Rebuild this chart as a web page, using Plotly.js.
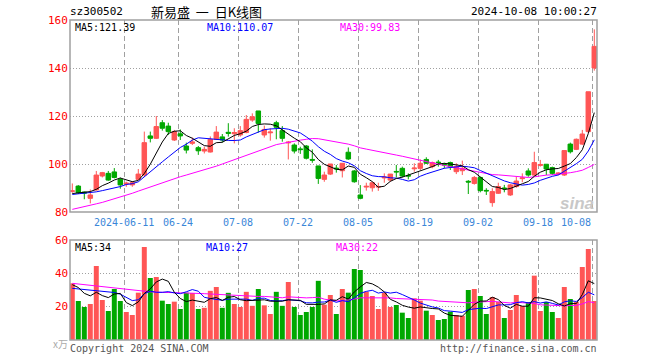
<!DOCTYPE html>
<html><head><meta charset="utf-8">
<script src="https://cdn.plot.ly/plotly-3.0.1.min.js"></script>
<style>html,body{margin:0;padding:0;background:#fff}#chart{width:660px;height:360px}</style>
</head><body><div id="chart"></div>
<script>
// ---------- data ----------
const dates = [
 '2024-05-28','2024-05-29','2024-05-30','2024-05-31',
 '2024-06-03','2024-06-04','2024-06-05','2024-06-06','2024-06-07','2024-06-11','2024-06-12','2024-06-13','2024-06-14',
 '2024-06-17','2024-06-18','2024-06-19','2024-06-20','2024-06-21','2024-06-24','2024-06-25','2024-06-26','2024-06-27','2024-06-28',
 '2024-07-01','2024-07-02','2024-07-03','2024-07-04','2024-07-05','2024-07-08','2024-07-09','2024-07-10','2024-07-11','2024-07-12',
 '2024-07-15','2024-07-16','2024-07-17','2024-07-18','2024-07-19','2024-07-22','2024-07-23','2024-07-24','2024-07-25','2024-07-26',
 '2024-07-29','2024-07-30','2024-07-31','2024-08-01','2024-08-02','2024-08-05','2024-08-06','2024-08-07','2024-08-08','2024-08-09',
 '2024-08-12','2024-08-13','2024-08-14','2024-08-15','2024-08-16','2024-08-19','2024-08-20','2024-08-21','2024-08-22','2024-08-23',
 '2024-08-26','2024-08-27','2024-08-28','2024-08-29','2024-08-30','2024-09-02','2024-09-03','2024-09-04','2024-09-05','2024-09-06',
 '2024-09-09','2024-09-10','2024-09-11','2024-09-12','2024-09-13','2024-09-18','2024-09-19','2024-09-20','2024-09-23','2024-09-24',
 '2024-09-25','2024-09-26','2024-09-27','2024-09-30','2024-10-08'];

const openP = [88.6,90.8,88.3,85.7,89.2,95.0,96.1,96.7,93.6,91.7,
 91.3,93.6,95.4,111.7,110.7,117.2,115.8,110.0,112.6,107.5,
 108.6,106.8,105.4,105.0,110.3,111.3,113.2,112.6,112.1,113.1,
 118.3,122.1,112.1,113.0,117.2,113.9,108.8,107.9,106.3,107.5,
 101.9,99.2,93.6,95.8,98.3,97.2,104.9,97.1,87.1,90.4,
 90.1,90.4,94.2,93.3,96.9,98.2,95.2,98.0,98.2,101.9,
 98.9,100.8,99.8,100.6,96.8,97.2,92.8,91.9,94.4,89.0,
 83.9,87.8,90.0,87.1,90.6,93.9,97.1,95.4,99.4,99.9,
 98.5,95.8,95.4,108.3,106.1,108.3,113.5,140.0];
const highP = [91.9,91.2,88.5,89.4,97.1,96.7,97.1,98.3,94.3,92.6,
 92.9,97.9,113.5,113.5,120.0,118.3,117.2,114.2,114.4,108.9,
 111.0,107.5,107.2,111.5,115.8,112.5,117.0,114.9,115.8,120.4,
 121.1,122.1,116.0,114.9,118.0,115.8,109.6,108.6,107.2,107.9,
 106.1,99.2,96.8,100.0,99.6,100.3,106.9,97.5,91.2,92.2,
 92.6,92.2,96.1,95.8,99.6,98.9,96.1,100.3,101.9,102.8,
 101.0,101.7,100.5,101.0,100.3,101.4,93.3,95.0,94.7,89.9,
 89.9,92.2,91.3,91.7,94.7,96.1,98.2,105.1,101.7,99.9,
 98.9,96.5,105.6,108.9,110.6,114.2,130.1,156.1];
const lowP = [88.0,87.5,85.3,83.6,88.9,94.4,93.0,94.0,89.7,90.5,
 90.5,93.3,94.7,109.0,110.4,113.9,112.1,109.6,110.0,104.4,
 107.9,103.8,104.4,104.8,110.0,109.0,111.4,108.6,111.4,112.8,
 117.6,113.1,111.0,109.7,110.3,109.3,101.9,104.4,104.2,101.9,
 100.5,91.7,92.6,95.4,96.4,94.4,101.7,92.2,85.3,88.9,
 88.5,88.8,92.2,92.6,94.4,94.4,93.6,96.8,97.5,100.0,
 98.2,98.9,98.2,97.5,95.8,95.4,87.5,91.4,88.2,87.1,
 82.2,87.5,88.2,86.7,90.1,92.4,94.7,95.0,98.9,95.4,
 95.4,95.3,95.0,104.4,105.8,107.9,112.8,138.9];
const closeP = [88.8,88.1,87.9,87.1,95.4,96.4,93.3,94.4,91.3,92.0,
 92.2,95.8,108.9,110.7,115.6,114.9,113.5,113.5,111.7,105.8,
 109.2,105.5,106.1,110.3,113.3,110.0,112.8,113.1,113.9,118.6,
 119.7,116.9,114.4,113.3,115.3,110.7,109.1,105.4,106.0,102.4,
 101.6,94.0,95.4,100.0,98.0,100.3,102.1,92.6,85.7,90.7,
 92.2,90.6,94.5,95.8,96.7,95.0,95.0,98.3,100.3,100.3,
 100.6,100.6,99.6,98.9,98.9,98.2,92.5,94.4,88.9,88.8,
 88.5,90.6,89.8,91.3,92.9,94.2,95.4,100.6,99.8,97.9,
 96.1,96.2,105.6,105.1,110.3,112.5,130.1,149.0];

const ma5 = [87.7,88.0,88.2,88.5,89.46,90.98,92.02,93.32,94.16,93.48,
 92.64,93.14,96.04,99.92,104.64,109.18,112.72,113.64,113.84,111.88,
 110.74,109.14,107.66,107.38,108.88,109.04,110.5,111.9,112.62,113.68,
 115.62,116.44,116.7,116.58,115.92,114.12,112.56,110.76,109.3,106.72,
 104.9,101.88,99.88,98.68,97.8,97.54,99.16,98.6,95.74,94.28,
 92.66,90.36,90.74,92.76,93.96,94.52,95.4,96.16,97.06,97.78,
 98.9,100.02,100.28,100.0,99.72,99.24,97.62,96.58,94.58,92.56,
 90.62,90.24,89.32,89.8,90.62,91.76,92.72,94.88,96.58,97.58,
 97.96,98.12,99.12,100.18,102.66,105.94,112.72,121.4];
const ma10 = [87.3,87.5,87.7,88.0,88.4,88.9,89.4,89.9,90.6,91.47,
 91.81,92.58,94.68,97.04,99.06,100.91,102.93,104.84,106.88,108.26,
 109.96,110.93,110.65,110.61,110.38,109.89,109.82,109.78,110.0,111.28,
 112.33,113.47,114.3,114.6,114.8,114.87,114.5,113.73,112.94,111.32,
 109.51,107.22,105.32,103.99,102.26,101.22,100.52,99.24,97.21,96.04,
 95.1,94.76,94.67,94.25,94.12,93.59,92.88,93.45,94.91,95.87,
 96.71,97.71,98.22,98.53,98.75,99.07,98.82,98.43,97.29,96.14,
 94.93,93.93,92.95,92.19,91.59,91.19,91.48,92.1,93.19,94.1,
 94.86,95.42,97.0,98.38,100.12,101.95,105.42,110.07];
const ma30 = [81.1,81.6,82.2,82.8,83.4,84.0,84.7,85.4,86.2,86.9,
 87.8,88.7,89.6,90.5,91.4,92.2,93.0,93.9,94.7,95.4,
 96.1,96.8,97.5,98.2,99.1,100.0,100.9,101.8,102.7,103.67,
 104.7,105.66,106.54,107.42,108.08,108.56,109.08,109.45,109.94,110.29,
 110.6,110.54,110.09,109.73,109.15,108.66,108.28,107.58,106.72,106.21,
 105.65,105.15,104.76,104.28,103.73,103.23,102.63,102.14,101.69,101.08,
 100.44,99.9,99.4,98.92,98.38,97.96,97.41,97.04,96.47,96.02,
 95.58,95.47,95.28,94.99,94.82,94.62,94.39,94.66,95.13,95.37,
 95.5,95.69,96.06,96.37,96.82,97.4,98.57,99.83];

const volume = [34,23.4,19.8,21.6,44.4,24,17.4,30.6,23.4,16.8,
 15,28.4,55.8,37.2,37.8,23.6,21.6,23,18.6,28.4,
 28.2,18.6,19.3,29.5,31.8,19.3,28.3,21.6,19.8,28.9,
 20.5,30.6,20.8,15.6,28.9,20.5,34.8,19.8,15,16.8,
 19.8,35.5,21.2,27,15.6,30.6,28.4,42.6,42,29,
 26.4,18.6,28.4,19.8,21,16.4,13.2,25,23.6,17.6,
 15,12,12.6,17,15,14.5,30,30.6,26.4,15.6,
 25.8,22.8,13.2,18,27,20.4,22.8,38.6,17.4,22.8,
 16.8,13.2,31.8,24.6,22.8,43.8,54.6,23.4];
const vma5 = [33.2,31.5,28.0,26.5,28.64,26.64,25.44,27.6,27.96,22.44,
 20.64,22.84,27.88,30.64,34.84,36.56,35.2,28.64,24.92,23.04,
 23.96,23.36,22.62,24.8,25.48,23.7,25.64,26.1,24.16,23.58,
 23.82,24.28,24.12,23.28,23.28,23.28,24.12,23.92,23.8,21.38,
 21.24,21.38,21.66,24.06,23.82,25.98,24.56,28.84,31.84,34.52,
 33.68,31.72,28.88,24.44,22.84,20.84,19.76,19.08,19.84,19.16,
 18.88,18.64,16.16,14.84,14.32,14.22,17.82,21.42,23.3,23.42,
 25.68,24.24,20.76,19.08,21.36,20.28,20.28,25.36,25.24,24.4,
 23.68,21.76,20.4,21.84,21.84,27.24,35.52,33.84];
const vma10 = [31.0,30.6,30.2,29.8,29.5,29.3,29.0,28.5,27.5,25.54,
 23.64,24.14,27.74,29.3,28.64,28.6,29.02,28.26,27.78,28.94,
 30.26,29.28,25.63,24.86,24.26,23.83,24.5,24.36,24.48,24.53,
 23.76,24.96,25.11,23.72,23.43,23.55,24.2,24.02,23.54,22.33,
 22.26,22.75,22.79,23.93,22.6,23.61,22.97,25.25,27.95,29.17,
 29.83,28.14,28.86,28.14,28.68,27.26,25.74,23.98,22.14,21.0,
 19.86,19.2,17.62,17.34,16.74,16.55,18.23,18.79,19.07,18.87,
 19.95,21.03,21.09,21.19,22.39,22.98,22.26,23.06,22.16,22.88,
 21.98,21.02,22.88,23.54,23.12,25.46,28.64,27.12];
const vma30 = [34.0,33.6,33.2,32.9,32.6,32.1,31.5,31.0,30.6,30.3,
 30.0,29.6,29.2,28.9,28.7,28.5,28.4,28.4,28.3,28.2,
 28.2,28.0,27.8,27.6,27.4,27.1,26.9,26.7,26.5,26.34,
 25.89,26.13,26.16,25.96,25.44,25.33,25.91,25.55,25.27,25.27,
 25.43,25.66,24.51,24.17,23.43,23.66,23.89,24.54,25.32,25.34,
 25.28,25.28,25.59,25.26,24.9,24.81,24.3,24.42,24.54,24.17,
 23.98,23.36,23.09,23.14,22.67,22.47,22.31,22.67,23.05,23.01,
 23.21,22.79,22.52,22.22,22.6,22.26,22.08,21.94,21.12,20.92,
 20.6,20.42,20.53,20.69,20.75,21.66,23.04,22.4];

const tickDates = ['2024-06-11','2024-06-24','2024-07-08','2024-07-22','2024-08-05','2024-08-19','2024-09-02','2024-09-18','2024-10-08'];
const tickText  = ['2024-06-11','06-24','07-08','07-22','08-05','08-19','09-02','09-18','10-08'];
const priceTicks = [80,100,120,140,160];
const volTicks = [20,40,60];

const headerCode = 'sz300502';
const headerTitle = '新易盛\u00a0\u00a0一\u00a0\u00a0日K线图';
const headerTime = '2024-10-08 10:00:27';
const maLabels = ['MA5:121.39','MA10:110.07','MA30:99.83'];
const vmaLabels = ['MA5:34','MA10:27','MA30:22'];

// ---------- drawing ----------
const W=660,H=360, L=70, R=597, T1=20, B1=212, T2=240, B2=340;
const px = v => v/W, py = v => 1 - v/H;
const idx = dates.map((d,i)=>i);
const RED='#ff5555', GREEN='#00a800', GRID='#a0a0a0';
const MONO='DejaVu Sans Mono, Liberation Mono, monospace';
const xRange=[-0.383, 87.45];
const gridX = tickDates.map(d => dates.indexOf(d) - 1/3);

const traces = [
 {type:'candlestick', x:idx, open:openP, high:highP, low:lowP, close:closeP,
  increasing:{line:{color:RED,width:1},fillcolor:RED},
  decreasing:{line:{color:GREEN,width:1},fillcolor:GREEN},
  whiskerwidth:0, hoverinfo:'skip', xaxis:'x', yaxis:'y'},
 {type:'scatter',mode:'lines',x:idx,y:ma30,line:{color:'#ff00ff',width:1},xaxis:'x',yaxis:'y',hoverinfo:'skip'},
 {type:'scatter',mode:'lines',x:idx,y:ma10,line:{color:'#0000ff',width:1},xaxis:'x',yaxis:'y',hoverinfo:'skip'},
 {type:'scatter',mode:'lines',x:idx,y:ma5,line:{color:'#000000',width:1},xaxis:'x',yaxis:'y',hoverinfo:'skip'},
 {type:'bar',x:idx,y:volume,marker:{color:closeP.map((c,i)=>c>=openP[i]?RED:GREEN),line:{width:0}},xaxis:'x2',yaxis:'y2',hoverinfo:'skip'},
 {type:'scatter',mode:'lines',x:idx,y:vma30,line:{color:'#ff00ff',width:1},xaxis:'x2',yaxis:'y2',hoverinfo:'skip'},
 {type:'scatter',mode:'lines',x:idx,y:vma10,line:{color:'#0000ff',width:1},xaxis:'x2',yaxis:'y2',hoverinfo:'skip'},
 {type:'scatter',mode:'lines',x:idx,y:vma5,line:{color:'#000000',width:1},xaxis:'x2',yaxis:'y2',hoverinfo:'skip'}
];

const ann = [];
const txt = (text,x,y,anchor,color,size,family) => ann.push({text:text,xref:'paper',yref:'paper',x:px(x),y:py(y),xanchor:anchor,yanchor:'middle',showarrow:false,borderpad:0,font:{family:family||MONO,size:size||10,color:color||'#000'}});
txt(headerCode,69,12,'left','#000',11);
txt(headerTitle,150,12,'left','#000',13,'Noto Sans CJK SC');
txt(headerTime,R+1,12,'right','#000',11);
const maCols=['#000000','#0000ff','#ff00ff'];
[74,206,339].forEach((x,i)=>txt(maLabels[i],x,28,'left',maCols[i],10));
[74,205,335].forEach((x,i)=>txt(vmaLabels[i],x,247,'left',maCols[i],10));
priceTicks.forEach(v=>ann.push({text:String(v),xref:'paper',yref:'y',x:px(69),y:v,xanchor:'right',yanchor:'middle',showarrow:false,borderpad:0,font:{family:MONO,size:11,color:'#ff0000'}}));
volTicks.forEach(v=>ann.push({text:String(v),xref:'paper',yref:'y2',x:px(69),y:v,xanchor:'right',yanchor:'middle',showarrow:false,borderpad:0,font:{family:MONO,size:11,color:'#ff0000'}}));
txt('x万',69,343,'right','#aaaaaa',10,'Noto Sans CJK SC');
tickDates.forEach((d,i)=>{
  const last = i===tickDates.length-1;
  ann.push({text:tickText[i],xref:last?'paper':'x',yref:'paper',x:last?px(592):gridX[i],y:py(222),xanchor:last?'right':'center',yanchor:'middle',showarrow:false,borderpad:0,font:{family:MONO,size:10,color:'#3a86d8'}});
});
txt('Copyright 2024 SINA.COM',69,348,'left','#555555',10);
txt('http://finance.sina.com.cn',R+1,348,'right','#555555',10);
txt('<b><i>sina</i></b>',577,203,'center','#c8c8c8',17,'Liberation Sans');

const frame = (t,b)=>({type:'rect',xref:'paper',yref:'paper',x0:px(L),x1:px(R),y0:py(b),y1:py(t),line:{color:GRID,width:1.5},layer:'above'});

const axX = {domain:[px(L),px(R)],range:xRange,tickvals:gridX,showticklabels:false,ticks:'',showgrid:true,gridcolor:GRID,griddash:'5px,3px',gridwidth:1,zeroline:false,showline:false,fixedrange:true};
const layout = {
 width:W,height:H,margin:{l:0,r:0,t:0,b:0},paper_bgcolor:'#fff',plot_bgcolor:'#fff',showlegend:false,
 boxgap:0.25, boxgroupgap:0, bargap:0.17,
 xaxis:Object.assign({},axX,{anchor:'y',rangeslider:{visible:false}}),
 yaxis:{domain:[py(B1),py(T1)],range:[80,160],tickvals:[100,120,140],showticklabels:false,ticks:'',showgrid:true,gridcolor:GRID,griddash:'1px,2px',zeroline:false,showline:false,fixedrange:true},
 xaxis2:Object.assign({},axX,{anchor:'y2',matches:'x'}),
 yaxis2:{domain:[py(B2),py(T2)],range:[0,60],tickvals:[20,40],showticklabels:false,ticks:'',showgrid:true,gridcolor:GRID,griddash:'1px,2px',zeroline:false,showline:false,fixedrange:true},
 annotations:ann,
 shapes:[frame(T1,B1),frame(T2,B2)]
};
Plotly.newPlot('chart',traces,layout,{staticPlot:true,displayModeBar:false});
</script></body></html>
